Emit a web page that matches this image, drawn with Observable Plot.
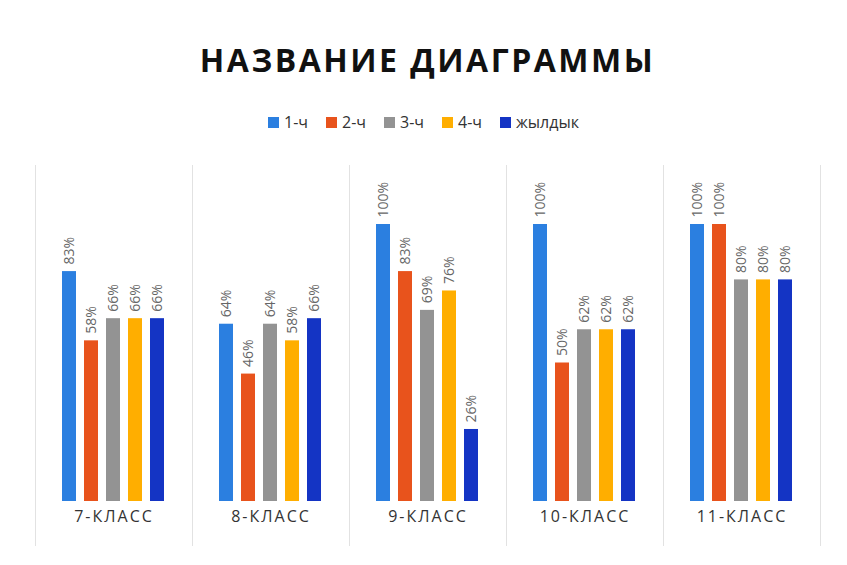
<!DOCTYPE html>
<html>
<head>
<meta charset="utf-8">
<script src="https://cdn.jsdelivr.net/npm/d3@7"></script>
<script src="https://cdn.jsdelivr.net/npm/@observablehq/plot@0.6"></script>
<style>
  html, body { margin: 0; padding: 0; background: #fff; }
  body { width: 847px; height: 565px; overflow: hidden; font-family: "Open Sans", "DejaVu Sans", sans-serif; }
  #title { height: 80px; display: flex; align-items: flex-end; justify-content: center; font-size: 32px; line-height: 40px; font-weight: bold; letter-spacing: 2.5px; color: #111; box-sizing: border-box; padding-left: 8px; }
  #legend { height: 60px; display: flex; align-items: flex-end; justify-content: center; gap: 18px; font-size: 16px; line-height: 22px; color: #333; box-sizing: border-box; padding-bottom: 7px; }
  .item { display: flex; align-items: center; gap: 5px; }
  .sw { width: 11px; height: 11px; display: inline-block; }
  g[aria-description="class-labels"] text { letter-spacing: 2px; }
</style>
</head>
<body>
<div id="title">НАЗВАНИЕ ДИАГРАММЫ</div>
<div id="legend"></div>
<div id="chart"></div>
<script>
const classes = ["7-КЛАСС", "8-КЛАСС", "9-КЛАСС", "10-КЛАСС", "11-КЛАСС"];
const series = ["1-ч", "2-ч", "3-ч", "4-ч", "жылдык"];
const q1 = [83, 64, 100, 100, 100];
const q2 = [58, 46, 83, 50, 100];
const q3 = [66, 64, 69, 62, 80];
const q4 = [66, 58, 76, 62, 80];
const year = [66, 66, 26, 62, 80];
const colors = ["#2B7FE0", "#E8531C", "#939393", "#FFAE00", "#1434C4"];

const valuesBySeries = [q1, q2, q3, q4, year];
const data = [];
classes.forEach((c, i) => {
  series.forEach((s, j) => {
    data.push({cls: c, series: s, value: valuesBySeries[j][i]});
  });
});

const legend = document.getElementById("legend");
series.forEach((s, j) => {
  const it = document.createElement("span");
  it.className = "item";
  it.innerHTML = `<span class="sw" style="background:${colors[j]}"></span><span>${s}</span>`;
  legend.appendChild(it);
});

const chart = Plot.plot({
  width: 847,
  height: 425,
  marginLeft: 35,
  marginRight: 27,
  marginTop: 25,
  marginBottom: 20,
  style: {fontFamily: "'Open Sans', 'DejaVu Sans', sans-serif"},
  fx: {domain: classes, axis: null, paddingInner: 0, paddingOuter: 0},
  x: {domain: series, axis: null, paddingInner: 0.36, paddingOuter: 1.22},
  y: {domain: [0, 100], range: [361, 84], axis: null},
  color: {domain: series, range: colors},
  marks: [
    Plot.frame({anchor: "left", stroke: "#e2e2e2"}),
    Plot.frame({anchor: "right", stroke: "#e2e2e2"}),
    Plot.barY(data, {fx: "cls", x: "series", y: "value", fill: "series"}),
    Plot.text(data, {
      fx: "cls", x: "series", y: "value",
      text: d => d.value + "%",
      rotate: -90, textAnchor: "start", dy: -7,
      fontSize: 14, fill: "#666"
    }),
    Plot.text(classes, {
      fx: d => d, text: d => d,
      frameAnchor: "bottom", dy: -24,
      fontSize: 16, fill: "#333",
      ariaDescription: "class-labels"
    })
  ]
});
document.getElementById("chart").appendChild(chart);
</script>
</body>
</html>
